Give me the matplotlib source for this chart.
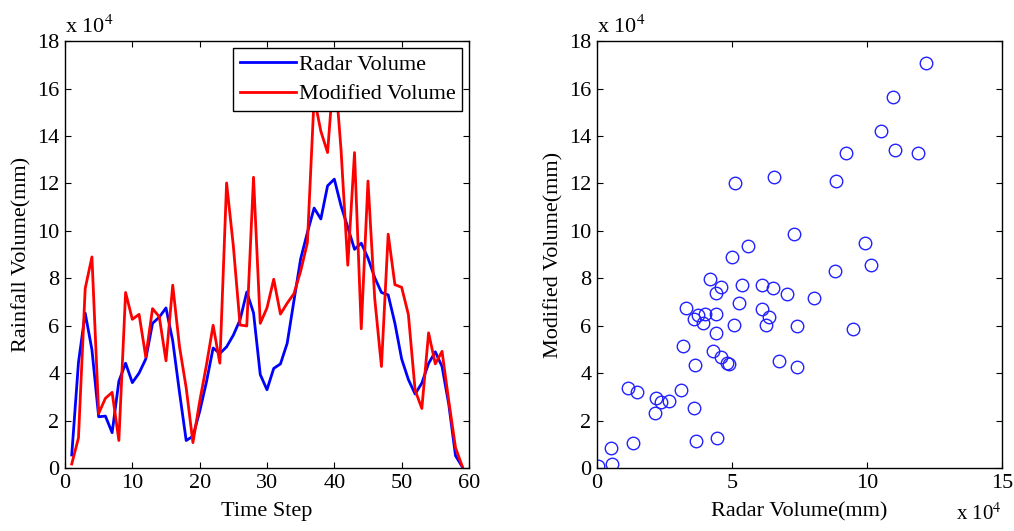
import matplotlib.pyplot as plt
import numpy as np

plt.rcParams['font.family'] = ['Liberation Serif', 'DejaVu Serif']
plt.rcParams['mathtext.fontset'] = 'stix'

# time step 1..59, volumes in units of 1e4 mm
time_step = list(range(1, 60))
radar = [0.55, 4.45, 6.53, 4.99, 2.16, 2.19, 1.49, 3.66, 4.42, 3.60,
         4.00, 4.60, 6.10, 6.36, 6.75, 5.36, 3.20, 1.16, 1.34, 2.38,
         3.62, 5.06, 4.83, 5.11, 5.60, 6.25, 7.42, 6.54, 3.94, 3.30,
         4.20, 4.39, 5.26, 7.05, 8.82, 9.93, 10.96, 10.50, 11.90, 12.18,
         11.05, 10.15, 9.22, 9.48, 8.85, 8.03, 7.40, 7.30, 6.10, 4.60,
         3.73, 3.12, 3.58, 4.41, 4.90, 4.28, 2.68, 0.52, 0.05]
modified = [0.17, 1.27, 7.57, 8.90, 2.30, 2.94, 3.19, 1.16, 7.40, 6.27,
            6.48, 4.68, 6.72, 6.38, 4.52, 7.71, 5.13, 3.38, 1.07, 2.80,
            4.33, 6.02, 4.42, 12.02, 9.37, 6.03, 5.99, 12.26, 6.10, 6.75,
            7.96, 6.49, 6.95, 7.35, 8.30, 9.50, 15.63, 14.20, 13.30, 17.07,
            13.41, 8.55, 13.30, 5.87, 12.10, 7.15, 4.28, 9.86, 7.73, 7.62,
            6.47, 3.28, 2.51, 5.70, 4.39, 4.92, 2.82, 0.86, 0.07]

fig = plt.figure(figsize=(10.14, 5.31), dpi=100)
ax1 = fig.add_axes([0.0641, 0.1186, 0.3984, 0.804])
ax2 = fig.add_axes([0.5888, 0.1186, 0.3994, 0.804])

fs = 16

# left: time series
ax1.plot(time_step, radar, color='#0000ff', linewidth=2.0, label='Radar Volume')
ax1.plot(time_step, modified, color='#ff0000', linewidth=2.0, label='Modified Volume')
ax1.set_xlim(0, 60)
ax1.set_ylim(0, 18)
ax1.set_xticks(range(0, 61, 10))
ax1.set_yticks(range(0, 19, 2))
ax1.set_xlabel('Time Step', fontsize=fs, labelpad=7)
ax1.set_ylabel('Rainfall Volume(mm)', fontsize=fs, labelpad=4)
ax1.text(0.0, 1.008, r'x 10$^4$', transform=ax1.transAxes, fontsize=fs, ha='left', va='bottom')
leg = ax1.legend(loc='upper right', fontsize=fs, fancybox=False, edgecolor='black',
                 framealpha=1.0, borderaxespad=0.3, handlelength=2.5,
                 labelspacing=0.4, borderpad=0.3, handletextpad=0.15)
leg.get_frame().set_linewidth(1.0)

# right: scatter
ax2.plot(radar, modified, linestyle='none', marker='o', markersize=9,
         markerfacecolor='none', markeredgecolor='#2222ff', markeredgewidth=1.0)
ax2.set_xlim(0, 15)
ax2.set_ylim(0, 18)
ax2.set_xticks([0, 5, 10, 15])
ax2.set_yticks(range(0, 19, 2))
ax2.set_xlabel('Radar Volume(mm)', fontsize=fs, labelpad=7)
ax2.set_ylabel('Modified Volume(mm)', fontsize=fs, labelpad=4)
ax2.text(0.0, 1.008, r'x 10$^4$', transform=ax2.transAxes, fontsize=fs, ha='left', va='bottom')
ax2.text(1.0, -0.083, r'x 10$^4$', transform=ax2.transAxes, fontsize=15, ha='right', va='top')

for ax in (ax1, ax2):
    ax.tick_params(direction='in', top=True, right=True, length=4, width=0.8,
                   labelsize=fs, pad=4)
    for s in ax.spines.values():
        s.set_linewidth(1.0)

fig.savefig('out.png', dpi=100)
